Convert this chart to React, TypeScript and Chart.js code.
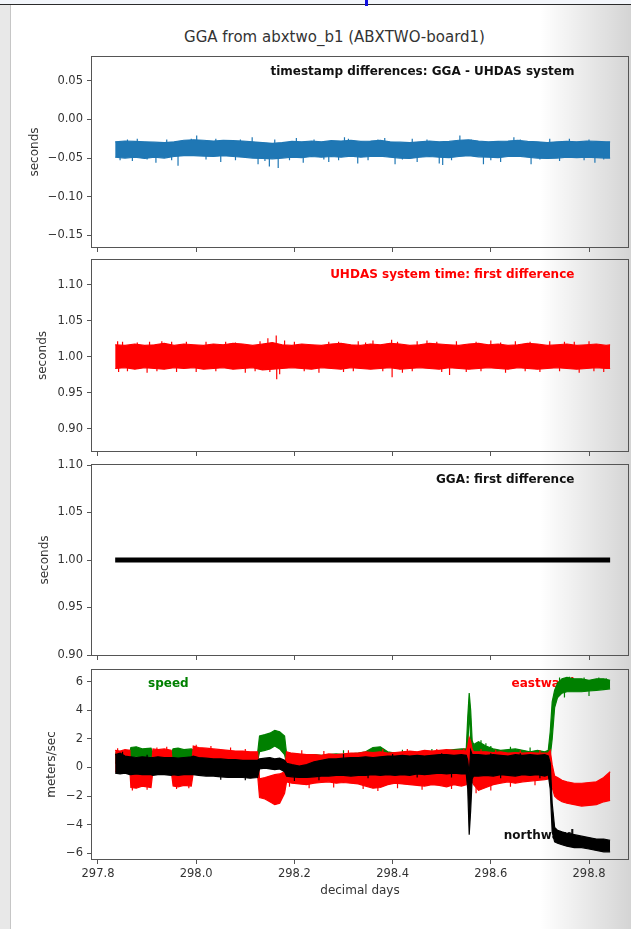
import React, { useEffect, useRef } from 'react';
import { Chart, registerables } from 'chart.js';

Chart.register(...registerables);

const FONT = '"DejaVu Sans", "Liberation Sans", sans-serif';
const TEXT = '#333333';
const AXIS = '#555555';
const TICK_PX = 11.5;
const LABEL_PX = 12;
const NOTE_PX = 12;

const CANVAS_LEFT = 11;
const CANVAS_W = 620;
const Y_AXIS_W = 81;
const RIGHT_PAD = 3;
const MARGIN = 20;

const BLUE = '#1f77b4';
const RED = '#ff0000';
const GREEN = '#008000';
const BLACK = '#000000';

// decimal days axis, shared by all panels
const X_MIN = 297.7878;
const X_MAX = 298.8794;
const dayTicks = [297.8, 298.0, 298.2, 298.4, 298.6, 298.8];

// sample days for the two noisy timing bands
const days12 = [
  297.835, 297.855, 297.875, 297.895, 297.915, 297.935, 297.955, 297.975, 297.995, 298.015,
  298.035, 298.055, 298.075, 298.095, 298.115, 298.135, 298.155, 298.175, 298.195, 298.215,
  298.235, 298.255, 298.275, 298.295, 298.315, 298.335, 298.355, 298.375, 298.395, 298.415,
  298.435, 298.455, 298.475, 298.495, 298.515, 298.535, 298.555, 298.575, 298.595, 298.615,
  298.635, 298.655, 298.675, 298.695, 298.715, 298.735, 298.755, 298.775, 298.795, 298.815,
  298.835, 298.843,
];

// panel 1: GGA - UHDAS timestamp difference (upper / lower edge of the band)
const tsHi = [
  -0.029, -0.028, -0.0285, -0.029, -0.0295, -0.030, -0.029, -0.027, -0.0265, -0.027,
  -0.028, -0.027, -0.0275, -0.028, -0.029, -0.030, -0.031, -0.030, -0.0285, -0.029,
  -0.028, -0.029, -0.0275, -0.028, -0.027, -0.0285, -0.028, -0.027, -0.029, -0.0295,
  -0.030, -0.029, -0.028, -0.029, -0.0285, -0.027, -0.0265, -0.028, -0.029, -0.0285,
  -0.028, -0.027, -0.0285, -0.029, -0.030, -0.029, -0.0285, -0.029, -0.028, -0.0285,
  -0.029, -0.029,
];
const tsLo = [
  -0.049, -0.050, -0.049, -0.0505, -0.049, -0.050, -0.048, -0.047, -0.047, -0.0475,
  -0.048, -0.047, -0.048, -0.049, -0.050, -0.0505, -0.051, -0.050, -0.049, -0.0495,
  -0.048, -0.049, -0.048, -0.049, -0.0475, -0.049, -0.048, -0.0475, -0.049, -0.050,
  -0.0505, -0.049, -0.048, -0.049, -0.0495, -0.048, -0.047, -0.0485, -0.049, -0.0495,
  -0.048, -0.0475, -0.049, -0.050, -0.0505, -0.050, -0.049, -0.0495, -0.049, -0.0495,
  -0.050, -0.050,
];
const TS_MID = -0.038;
const tsSpikeDays = [
  297.87, 297.88, 297.918, 297.963, 298.001, 298.05, 298.114, 298.126, 298.149, 298.167,
  298.204, 298.218, 298.27, 298.302, 298.329, 298.384, 298.405, 298.44, 298.45, 298.495,
  298.502, 298.537, 298.585, 298.62, 298.647, 298.682, 298.74, 298.76, 298.812,
  297.845, 297.86, 297.9, 297.94, 297.95, 297.99, 298.02, 298.04, 298.08, 298.09,
  298.14, 298.16, 298.19, 298.24, 298.26, 298.29, 298.31, 298.35, 298.37, 298.42,
  298.47, 298.52, 298.56, 298.6, 298.66, 298.7, 298.72, 298.79, 298.8, 298.83,
];
const tsSpikeEnds = [
  -0.054, -0.025, -0.056, -0.060, -0.021, -0.055, -0.023, -0.058, -0.061, -0.063,
  -0.024, -0.056, -0.055, -0.023, -0.057, -0.024, -0.058, -0.025, -0.055, -0.057,
  -0.059, -0.021, -0.058, -0.055, -0.023, -0.058, -0.054, -0.025, -0.056,
  -0.053, -0.026, -0.052, -0.026, -0.053, -0.025, -0.052, -0.025, -0.053, -0.026,
  -0.054, -0.026, -0.053, -0.026, -0.052, -0.053, -0.025, -0.053, -0.026, -0.052,
  -0.026, -0.053, -0.026, -0.053, -0.026, -0.052, -0.025, -0.053, -0.026, -0.052,
];

// panel 2: UHDAS system time first difference
const uhHi = [
  1.017, 1.016, 1.018, 1.016, 1.017, 1.019, 1.016, 1.018, 1.017, 1.016,
  1.018, 1.017, 1.019, 1.018, 1.016, 1.018, 1.020, 1.017, 1.016, 1.018,
  1.017, 1.016, 1.018, 1.019, 1.017, 1.016, 1.018, 1.017, 1.019, 1.018,
  1.016, 1.017, 1.019, 1.018, 1.017, 1.016, 1.018, 1.019, 1.017, 1.018,
  1.016, 1.017, 1.019, 1.018, 1.016, 1.017, 1.018, 1.016, 1.017, 1.018,
  1.016, 1.017,
];
const uhLo = [
  0.984, 0.985, 0.983, 0.985, 0.984, 0.983, 0.985, 0.984, 0.985, 0.983,
  0.984, 0.985, 0.983, 0.984, 0.985, 0.982, 0.983, 0.984, 0.985, 0.984,
  0.983, 0.985, 0.984, 0.983, 0.985, 0.984, 0.983, 0.984, 0.985, 0.983,
  0.984, 0.985, 0.984, 0.983, 0.985, 0.984, 0.983, 0.984, 0.985, 0.984,
  0.983, 0.985, 0.984, 0.983, 0.984, 0.985, 0.984, 0.983, 0.984, 0.985,
  0.984, 0.984,
];
const UH_MID = 1.0;
const uhSpikeDays = [
  297.84, 297.842, 297.9, 297.905, 297.93, 297.98, 298.0, 298.06, 298.1, 298.13,
  298.146, 298.163, 298.164, 298.17, 298.18, 298.25, 298.27, 298.3, 298.33, 298.36,
  298.398, 298.399, 298.42, 298.45, 298.47, 298.516, 298.53, 298.55, 298.6, 298.63,
  298.65, 298.7, 298.75, 298.78, 298.8, 298.83,
  297.85, 297.86, 297.88, 297.92, 297.95, 297.96, 298.02, 298.04, 298.08, 298.12,
  298.15, 298.2, 298.22, 298.29, 298.32, 298.345, 298.38, 298.41, 298.44, 298.49,
  298.5, 298.57, 298.58, 298.62, 298.67, 298.68, 298.72, 298.74, 298.77, 298.81,
];
const uhSpikeEnds = [
  1.022, 0.979, 0.978, 1.021, 1.022, 1.021, 0.979, 1.021, 0.978, 1.022,
  1.026, 1.030, 0.969, 0.976, 1.023, 0.978, 1.021, 0.979, 1.022, 1.023,
  1.024, 0.972, 0.978, 1.022, 1.023, 0.975, 1.022, 0.979, 1.023, 0.978,
  1.022, 0.979, 1.021, 0.978, 1.022, 0.979,
  1.021, 0.980, 1.020, 0.980, 1.021, 0.979, 1.021, 0.980, 1.020, 0.980,
  0.979, 1.021, 0.980, 1.021, 0.980, 1.020, 0.980, 1.021, 0.980, 1.021,
  0.979, 1.021, 0.980, 1.020, 0.980, 1.021, 1.022, 0.980, 1.021, 0.980,
];

// panel 3: GGA first difference
const ggaDays = [297.835, 298.0, 298.2, 298.4, 298.6, 298.843];
const ggaDiff = [1.0, 1.0, 1.0, 1.0, 1.0, 1.0];

// panel 4: ship velocity, sampled more densely around the jumps
const days4 = [
  297.835, 297.845, 297.855, 297.865,
  297.867, 297.878, 297.890, 297.908,
  297.912, 297.922, 297.935, 297.949,
  297.953, 297.963, 297.975, 297.990,
  297.994, 298.005, 298.020, 298.035, 298.050, 298.065, 298.080, 298.095, 298.110, 298.125,
  298.129, 298.140, 298.150, 298.160, 298.170, 298.180,
  298.184, 298.195, 298.210, 298.225, 298.240, 298.255, 298.270, 298.285, 298.300, 298.315,
  298.330, 298.345, 298.360, 298.375, 298.390, 298.405, 298.420, 298.435, 298.450, 298.465,
  298.480, 298.495, 298.510, 298.525, 298.540, 298.550,
  298.553, 298.556, 298.559, 298.562, 298.565,
  298.575, 298.590, 298.605, 298.620, 298.635, 298.650, 298.665, 298.680, 298.695, 298.710, 298.717,
  298.721, 298.725, 298.730, 298.736, 298.745, 298.755, 298.770, 298.785, 298.800, 298.815, 298.830, 298.843,
];
const speedHi = [
  1.0, 1.05, 0.95, 1.1,
  1.4, 1.45, 1.3, 1.35,
  1.0, 1.1, 1.05, 1.0,
  1.3, 1.35, 1.25, 1.3,
  1.2, 1.15, 1.1, 1.05, 1.0, 1.05, 0.95, 1.0, 0.95, 1.0,
  2.2, 2.3, 2.4, 2.6, 2.5, 2.2,
  1.0, 0.95, 0.9, 0.85, 0.9, 0.85, 0.9, 0.95, 0.9, 0.95,
  1.0, 1.1, 1.4, 1.45, 1.1, 1.0, 1.0, 1.05, 1.0, 1.05,
  1.1, 1.15, 1.2, 1.25, 1.3, 1.3,
  3.5, 5.2, 4.0, 1.9, 1.6,
  1.8, 1.5, 1.3, 1.2, 1.25, 1.3, 1.2, 1.1, 1.2, 1.1, 1.2,
  2.5, 4.6, 5.4, 5.9, 6.2, 6.3, 6.2, 6.2, 6.1, 6.2, 6.2, 6.1,
];
const speedLo = [
  0.3, 0.35, 0.3, 0.4,
  0.7, 0.75, 0.7, 0.75,
  0.4, 0.45, 0.4, 0.45,
  0.5, 0.55, 0.5, 0.5,
  0.5, 0.45, 0.5, 0.4, 0.45, 0.4, 0.45, 0.4, 0.4, 0.45,
  1.1, 1.2, 1.3, 1.5, 1.3, 0.9,
  0.3, 0.3, 0.25, 0.3, 0.3, 0.3, 0.3, 0.35, 0.3, 0.35,
  0.35, 0.4, 0.5, 0.5, 0.4, 0.4, 0.4, 0.4, 0.4, 0.45,
  0.45, 0.5, 0.5, 0.5, 0.55, 0.6,
  1.2, 4.0, 2.0, 0.8, 0.6,
  0.7, 0.6, 0.5, 0.5, 0.5, 0.5, 0.45, 0.45, 0.5, 0.45, 0.5,
  0.8, 2.0, 4.2, 4.9, 5.2, 5.3, 5.3, 5.3, 5.35, 5.4, 5.45, 5.5,
];
const eastHi = [
  1.2, 1.15, 1.25, 1.2,
  -0.3, -0.35, -0.3, -0.35,
  1.3, 1.25, 1.3, 1.2,
  -0.3, -0.3, -0.35, -0.3,
  1.5, 1.4, 1.35, 1.3, 1.25, 1.2, 1.15, 1.15, 1.1, 1.1,
  -0.8, -0.7, -0.6, -0.5, -0.45, -0.3,
  1.1, 1.0, 0.95, 0.9, 0.9, 0.85, 0.95, 0.9, 0.95, 1.0,
  1.0, 1.1, 1.05, 1.1, 1.0, 1.05, 1.1, 1.15, 1.1, 1.2,
  1.15, 1.2, 1.25, 1.2, 1.2, 1.15,
  1.5, 2.1, 1.8, 1.3, 1.1,
  1.1, 1.1, 1.05, 1.1, 1.0, 1.05, 1.0, 1.05, 1.0, 1.0, 1.0,
  1.2, 0.2, -0.6, -0.7, -0.9, -1.0, -1.1, -1.1, -1.05, -1.0, -0.7, -0.3,
];
const eastLo = [
  -0.3, -0.25, -0.3, -0.2,
  -1.4, -1.45, -1.3, -1.4,
  -0.2, -0.25, -0.2, -0.2,
  -1.3, -1.35, -1.25, -1.3,
  -0.4, -0.45, -0.4, -0.5, -0.45, -0.5, -0.5, -0.55, -0.5, -0.5,
  -2.1, -2.2, -2.4, -2.6, -2.5, -1.8,
  -1.0, -1.1, -1.15, -1.2, -1.1, -1.05, -1.0, -1.1, -1.05, -1.1,
  -1.15, -1.3, -1.45, -1.4, -1.2, -1.1, -1.15, -1.2, -1.25, -1.3,
  -1.2, -1.25, -1.35, -1.2, -1.3, -1.2,
  -0.9, -1.1, -0.9, -1.0, -1.2,
  -1.6, -1.4, -1.2, -1.1, -1.0, -1.1, -1.0, -0.95, -0.9, -0.85, -0.8,
  -0.6, -1.4, -2.0, -2.2, -2.4, -2.5, -2.6, -2.7, -2.65, -2.6, -2.4, -2.3,
];
const northHi = [
  0.9, 1.0, 0.8, 0.75,
  0.75, 0.7, 0.75, 0.7,
  0.7, 0.75, 0.7, 0.7,
  0.7, 0.65, 0.7, 0.75,
  0.8, 0.7, 0.65, 0.6, 0.6, 0.55, 0.55, 0.5, 0.5, 0.5,
  0.6, 0.65, 0.7, 0.6, 0.65, 0.5,
  0.3, 0.2, 0.1, 0.2, 0.4, 0.5, 0.6, 0.6, 0.65, 0.7,
  0.7, 0.75, 0.7, 0.75, 0.8, 0.8, 0.85, 0.8, 0.85, 0.8,
  0.85, 0.9, 0.9, 0.85, 0.9, 0.85,
  0.5, -0.5, 1.2, 0.9, 0.9,
  0.9, 0.85, 0.9, 0.85, 0.8, 0.9, 0.85, 0.9, 0.85, 0.9, 0.8,
  0.3, -2.5, -4.2, -4.4, -4.5, -4.6, -4.7, -4.8, -4.9, -5.0, -5.0, -5.1,
];
const northLo = [
  -0.4, -0.45, -0.4, -0.5,
  -0.5, -0.45, -0.5, -0.5,
  -0.55, -0.5, -0.5, -0.55,
  -0.5, -0.55, -0.5, -0.5,
  -0.5, -0.55, -0.6, -0.6, -0.65, -0.7, -0.7, -0.7, -0.75, -0.7,
  -0.1, -0.05, -0.1, -0.15, -0.1, -0.3,
  -0.6, -0.65, -0.7, -0.7, -0.65, -0.6, -0.6, -0.55, -0.55, -0.6,
  -0.55, -0.55, -0.5, -0.55, -0.5, -0.55, -0.5, -0.55, -0.45, -0.5,
  -0.45, -0.4, -0.45, -0.4, -0.45, -0.45,
  -1.5, -4.7, -3.0, -0.8, -0.6,
  -0.6, -0.55, -0.6, -0.5, -0.55, -0.6, -0.5, -0.55, -0.5, -0.6, -0.5,
  -1.5, -4.5, -5.2, -5.3, -5.4, -5.5, -5.6, -5.6, -5.7, -5.8, -5.9, -5.9,
];

// short excursions out of the velocity bands (drawn from a value inside the band)
const EAST_MID = 0;
const eastNickDays = [
  297.84, 297.87, 297.9, 297.92, 297.94, 297.96, 297.985, 298.0, 298.03, 298.07,
  298.1, 298.19, 298.215, 298.23, 298.26, 298.28, 298.31, 298.34, 298.37, 298.38,
  298.41, 298.43, 298.46, 298.49, 298.52, 298.545, 298.57, 298.58, 298.6, 298.61,
  298.64, 298.66, 298.69, 298.7,
];
const eastNickEnds = [
  1.35, -1.6, -1.55, 1.4, 1.45, -1.5, -1.45, 1.6, 1.5, 1.4,
  1.3, -1.35, 1.2, -1.45, 1.15, -1.4, 1.2, -1.5, -1.65, 1.3,
  -1.45, 1.3, -1.55, 1.3, -1.5, 1.35, -1.8, 1.3, -1.6, 1.25,
  -1.35, 1.2, -1.25, 1.2,
];
const NORTH_MID = 0;
const northNickDays = [
  297.85, 297.9, 298.05, 298.1, 298.2, 298.25, 298.3, 298.35, 298.4, 298.45,
  298.5, 298.52, 298.6, 298.62, 298.66, 298.7,
];
const northNickEnds = [
  1.1, 0.9, -0.85, -0.9, -0.95, -0.9, 0.95, -0.75, 0.95, -0.7,
  1.0, -0.7, 1.0, -0.75, 1.0, -0.75,
];
const SPEED_MID = 0.5;
const speedNickDays = [298.3, 298.42, 298.48, 298.58, 298.59, 298.6, 298.64, 298.68];
const speedNickEnds = [1.2, 1.25, 1.3, 1.9, 1.7, 1.5, 1.45, 1.4];
const SPEED_FAST_MID = 5.7;
const speedFastNickDays = [298.74, 298.75, 298.76, 298.79, 298.8, 298.82, 298.835];
const speedFastNickEnds = [6.3, 4.9, 6.35, 6.3, 5.0, 6.3, 6.25];

// y axis ticks per panel
const tsTicks = [-0.15, -0.1, -0.05, 0.0, 0.05];
const diffTicks = [0.9, 0.95, 1.0, 1.05, 1.1];
const velTicks = [-6, -4, -2, 0, 2, 4, 6];

const signed = (v: number, digits: number) => v.toFixed(digits).replace('-', '\u2212');

function bandSets(days: number[], lo: number[], hi: number[], color: string) {
  const pts = (vals: number[]) => days.map((d, i) => ({ x: d, y: vals[i] }));
  return [
    { data: pts(lo), borderColor: color, backgroundColor: color, borderWidth: 1.2, fill: false },
    { data: pts(hi), borderColor: color, backgroundColor: color, borderWidth: 1.2, fill: '-1' },
  ];
}

function spikeSet(days: number[], ends: number[], mid: number, color: string) {
  const pts: any[] = [];
  days.forEach((d, i) => {
    pts.push({ x: d, y: mid }, { x: d, y: ends[i] }, { x: d, y: null });
  });
  return { data: pts, borderColor: color, borderWidth: 1.2, fill: false, spanGaps: false };
}

type Note = { text: string; color: string; fx: number; dy: number; align: CanvasTextAlign; fromBottom?: boolean };

interface PanelProps {
  plotTop: number;
  plotBottom: number;
  bottomRoom?: number;
  makeDatasets: () => any[];
  yMin: number;
  yMax: number;
  yTicks: number[];
  yDigits: number;
  yLabel: string;
  yLabelX: number;
  notes: Note[];
  xLabel?: string;
}

function Panel({ plotTop, plotBottom, bottomRoom = MARGIN, makeDatasets, yMin, yMax, yTicks, yDigits, yLabel, yLabelX, notes, xLabel }: PanelProps) {
  const canvasRef = useRef<HTMLCanvasElement>(null);
  const top = plotTop - MARGIN;
  const height = plotBottom + bottomRoom - top;

  useEffect(() => {
    if (!canvasRef.current) return;

    const decor = {
      id: 'decor',
      // panel notes sit under the data, as in the original
      beforeDatasetsDraw(chart: any) {
        const { ctx, chartArea: a } = chart;
        ctx.save();
        ctx.font = `bold ${NOTE_PX}px ${FONT}`;
        ctx.textBaseline = 'middle';
        notes.forEach((n) => {
          ctx.fillStyle = n.color;
          ctx.textAlign = n.align;
          const x = a.left + n.fx * (a.right - a.left);
          const y = n.fromBottom ? a.bottom - n.dy : a.top + n.dy;
          ctx.fillText(n.text, x, y);
        });
        ctx.restore();
      },
      afterDraw(chart: any) {
        const { ctx, chartArea: a } = chart;
        ctx.save();
        ctx.strokeStyle = AXIS;
        ctx.lineWidth = 1;
        ctx.strokeRect(a.left - 0.5, a.top - 0.5, a.right - a.left + 1, a.bottom - a.top + 1);
        ctx.fillStyle = TEXT;
        ctx.font = `${LABEL_PX}px ${FONT}`;
        ctx.textAlign = 'center';
        ctx.textBaseline = 'middle';
        if (xLabel) ctx.fillText(xLabel, (a.left + a.right) / 2, a.bottom + 32);
        ctx.translate(yLabelX - CANVAS_LEFT, (a.top + a.bottom) / 2);
        ctx.rotate(-Math.PI / 2);
        ctx.fillText(yLabel, 0, 0);
        ctx.restore();
      },
    };

    const chart = new Chart(canvasRef.current, {
      type: 'line',
      data: { datasets: makeDatasets() },
      options: {
        animation: false,
        responsive: false,
        events: [],
        layout: { padding: { top: MARGIN, right: RIGHT_PAD, bottom: 0, left: 0 } },
        elements: { point: { radius: 0 }, line: { tension: 0 } },
        plugins: { legend: { display: false }, tooltip: { enabled: false } },
        scales: {
          x: {
            type: 'linear',
            min: X_MIN,
            max: X_MAX,
            afterBuildTicks: (s: any) => {
              s.ticks = dayTicks.map((v) => ({ value: v }));
            },
            afterFit: (s: any) => {
              s.height = bottomRoom;
            },
            border: { display: false },
            grid: { drawOnChartArea: false, drawTicks: true, tickLength: 5, tickColor: AXIS, tickWidth: 1 },
            ticks: {
              display: !!xLabel,
              autoSkip: false,
              maxRotation: 0,
              padding: 3,
              color: TEXT,
              font: { family: FONT, size: TICK_PX },
              callback: (v: any) => Number(v).toFixed(1),
            },
          },
          y: {
            type: 'linear',
            min: yMin,
            max: yMax,
            afterBuildTicks: (s: any) => {
              s.ticks = yTicks.map((v) => ({ value: v }));
            },
            afterFit: (s: any) => {
              s.width = Y_AXIS_W;
            },
            border: { display: false },
            grid: { drawOnChartArea: false, drawTicks: true, tickLength: 5, tickColor: AXIS, tickWidth: 1 },
            ticks: {
              autoSkip: false,
              padding: 4,
              color: TEXT,
              font: { family: FONT, size: TICK_PX },
              callback: (v: any) => signed(Number(v), yDigits),
            },
          },
        },
      },
      plugins: [decor],
    });

    return () => {
      chart.destroy();
    };
  }, []);

  return (
    <canvas
      ref={canvasRef}
      width={CANVAS_W}
      height={height}
      style={{ position: 'absolute', left: CANVAS_LEFT, top }}
    />
  );
}

export default function App() {
  return (
    <div
      style={{
        position: 'absolute',
        left: 0,
        top: 0,
        width: 631,
        height: 929,
        overflow: 'hidden',
        background: '#ffffff',
        fontFamily: FONT,
      }}
    >
      {/* page behind the (transparent) figure */}
      <div
        style={{
          position: 'absolute',
          left: 540,
          top: 0,
          width: 91,
          height: 929,
          background: 'linear-gradient(to right, rgba(0,0,0,0), rgba(0,0,0,0.17))',
        }}
      />
      <div style={{ position: 'absolute', left: 0, top: 0, width: 10, height: 929, background: '#e8e8e8' }} />
      <div style={{ position: 'absolute', left: 10, top: 0, width: 1, height: 929, background: '#c6c6c6' }} />
      <div style={{ position: 'absolute', left: 0, top: 0, width: 631, height: 4, background: '#f3f6fb' }} />
      <div style={{ position: 'absolute', left: 0, top: 4, width: 631, height: 1, background: '#2b2b2b' }} />
      <div style={{ position: 'absolute', left: 365, top: 0, width: 3, height: 6, background: '#1010e0' }} />

      <div
        style={{
          position: 'absolute',
          left: 334.5,
          top: 28,
          transform: 'translateX(-50%)',
          whiteSpace: 'nowrap',
          fontSize: 15,
          lineHeight: '18px',
          color: TEXT,
        }}
      >
        GGA from abxtwo_b1 (ABXTWO-board1)
      </div>

      <Panel
        plotTop={57}
        plotBottom={247}
        makeDatasets={() => [...bandSets(days12, tsLo, tsHi, BLUE), spikeSet(tsSpikeDays, tsSpikeEnds, TS_MID, BLUE)]}
        yMin={-0.1651}
        yMax={0.0807}
        yTicks={tsTicks}
        yDigits={2}
        yLabel="seconds"
        yLabelX={35}
        notes={[{ text: 'timestamp differences: GGA - UHDAS system', color: '#111111', fx: 0.9, dy: 15, align: 'right' }]}
      />
      <Panel
        plotTop={260}
        plotBottom={451}
        makeDatasets={() => [...bandSets(days12, uhLo, uhHi, RED), spikeSet(uhSpikeDays, uhSpikeEnds, UH_MID, RED)]}
        yMin={0.8694}
        yMax={1.1347}
        yTicks={diffTicks}
        yDigits={2}
        yLabel="seconds"
        yLabelX={43}
        notes={[{ text: 'UHDAS system time: first difference', color: RED, fx: 0.9, dy: 15, align: 'right' }]}
      />
      <Panel
        plotTop={465}
        plotBottom={655}
        makeDatasets={() => [
          {
            data: ggaDays.map((d, i) => ({ x: d, y: ggaDiff[i] })),
            borderColor: BLACK,
            borderWidth: 5,
            fill: false,
          },
        ]}
        yMin={0.9}
        yMax={1.1}
        yTicks={diffTicks}
        yDigits={2}
        yLabel="seconds"
        yLabelX={45}
        notes={[{ text: 'GGA: first difference', color: '#111111', fx: 0.9, dy: 15, align: 'right' }]}
      />
      <Panel
        plotTop={670}
        plotBottom={859}
        bottomRoom={70}
        makeDatasets={() => [
          ...bandSets(days4, northLo, northHi, BLACK),
          spikeSet(northNickDays, northNickEnds, NORTH_MID, BLACK),
          ...bandSets(days4, eastLo, eastHi, RED),
          spikeSet(eastNickDays, eastNickEnds, EAST_MID, RED),
          ...bandSets(days4, speedLo, speedHi, GREEN),
          spikeSet(speedNickDays, speedNickEnds, SPEED_MID, GREEN),
          spikeSet(speedFastNickDays, speedFastNickEnds, SPEED_FAST_MID, GREEN),
        ]}
        yMin={-6.4}
        yMax={6.82}
        yTicks={velTicks}
        yDigits={0}
        yLabel="meters/sec"
        yLabelX={52}
        xLabel="decimal days"
        notes={[
          { text: 'speed', color: GREEN, fx: 0.1045, dy: 14, align: 'left' },
          { text: 'eastward', color: RED, fx: 0.9, dy: 14, align: 'right' },
          { text: 'northward', color: '#111111', fx: 0.9, dy: 23, align: 'right', fromBottom: true },
        ]}
      />
    </div>
  );
}
